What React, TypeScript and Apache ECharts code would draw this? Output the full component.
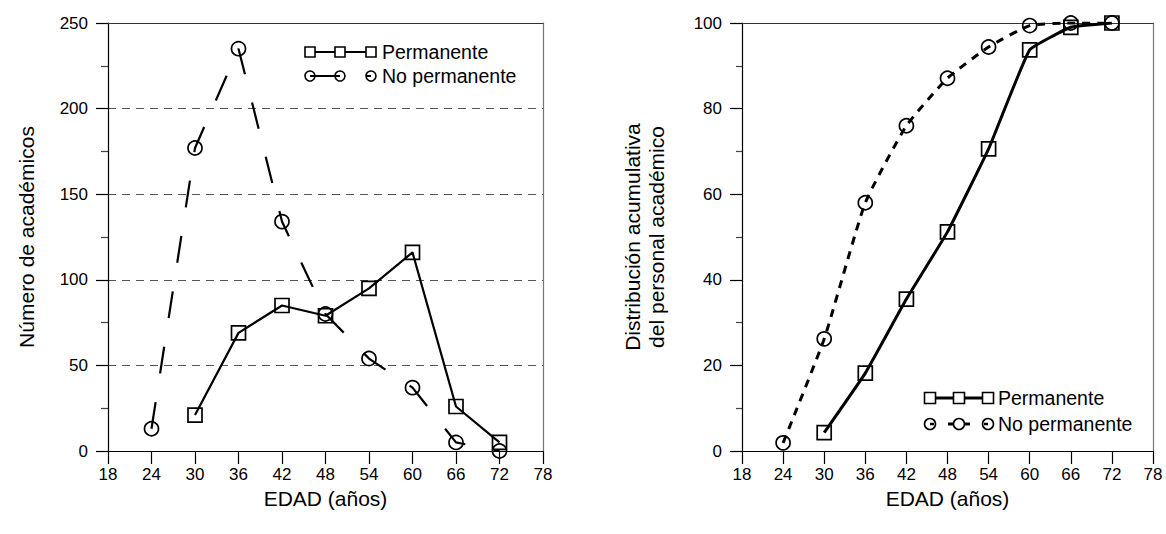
import React, { useEffect, useRef } from "react";
import * as echarts from "echarts";

// ---- Data ----
const permAges = [30, 36, 42, 48, 54, 60, 66, 72];
const permCount = [21, 69, 85, 79, 95, 116, 26, 5];
const noPermAges = [24, 30, 36, 42, 48, 54, 60, 66, 72];
const noPermCount = [13, 177, 235, 134, 80, 54, 37, 5, 0];
const permCum = [4.3, 18.2, 35.5, 51.2, 70.6, 93.7, 99, 100];
const noPermCum = [1.9, 26.2, 58, 76, 87.1, 94.4, 99.4, 100, 100];

const seriesNames = ["Permanente", "No permanente"];
const xName = "EDAD (años)";
const yNameLeft = "Número de académicos";
const yNameRight = "Distribución acumulativa\ndel personal académico";

const FONT = '"Liberation Sans", Arial, sans-serif';
const LEGEND_FONT = `19.5px ${FONT}`;

const zip = (xs: number[], ys: number[]) => xs.map((x, i) => [x, ys[i]]);

function bottomX(gridIndex: number) {
  return {
    type: "value",
    gridIndex,
    min: 18,
    max: 78,
    interval: 6,
    name: xName,
    nameLocation: "middle",
    nameGap: 34,
    nameTextStyle: { fontFamily: FONT, fontSize: 21, color: "#000" },
    axisLine: { show: true, lineStyle: { color: "#000", width: 1.2 } },
    axisTick: { show: true, inside: false, length: 13, lineStyle: { color: "#000", width: 1.2 } },
    axisLabel: { fontFamily: FONT, fontSize: 17, color: "#000", margin: 15 },
    splitLine: { show: false },
  };
}

function frameX(gridIndex: number) {
  return {
    type: "value",
    gridIndex,
    position: "top",
    min: 0,
    max: 1,
    axisLine: { show: true, onZero: false, lineStyle: { color: "#333", width: 1.2 } },
    axisTick: { show: false },
    axisLabel: { show: false },
    splitLine: { show: false },
  };
}

function frameY(gridIndex: number) {
  return {
    type: "value",
    gridIndex,
    position: "right",
    min: 0,
    max: 1,
    axisLine: { show: true, onZero: false, lineStyle: { color: "#777", width: 1.2 } },
    axisTick: { show: false },
    axisLabel: { show: false },
    splitLine: { show: false },
  };
}

export default function App() {
  const ref = useRef<HTMLDivElement>(null);

  useEffect(() => {
    if (!ref.current) return;
    const chart = echarts.init(ref.current, undefined, { renderer: "svg" });

    const markerItem = { color: "rgba(0,0,0,0)", borderColor: "#000", borderWidth: 1.7 };

    const legendLeft: any[] = [
      { type: "line", shape: { x1: 310, y1: 52, x2: 371, y2: 52 }, style: { stroke: "#000", lineWidth: 2 } },
      ...[310, 340, 371].map((cx) => ({
        type: "rect",
        shape: { x: cx - 5, y: 47, width: 10, height: 10 },
        style: { fill: "#fff", stroke: "#000", lineWidth: 1.6 },
      })),
      { type: "text", style: { text: seriesNames[0], x: 382, y: 52, font: LEGEND_FONT, fill: "#000", verticalAlign: "middle" } },
      { type: "line", shape: { x1: 310, y1: 76, x2: 340, y2: 76 }, style: { stroke: "#000", lineWidth: 2 } },
      { type: "line", shape: { x1: 366, y1: 76, x2: 371, y2: 76 }, style: { stroke: "#000", lineWidth: 2 } },
      ...[310, 340, 371].map((cx) => ({
        type: "circle",
        shape: { cx, cy: 76, r: 5 },
        style: { fill: "none", stroke: "#000", lineWidth: 1.6 },
      })),
      { type: "text", style: { text: seriesNames[1], x: 382, y: 76, font: LEGEND_FONT, fill: "#000", verticalAlign: "middle" } },
    ];

    const legendRight: any[] = [
      { type: "line", shape: { x1: 930, y1: 398, x2: 988, y2: 398 }, style: { stroke: "#000", lineWidth: 3 } },
      ...[930, 959, 988].map((cx) => ({
        type: "rect",
        shape: { x: cx - 5.5, y: 392.5, width: 11, height: 11 },
        style: { fill: "#fff", stroke: "#000", lineWidth: 1.6 },
      })),
      { type: "text", style: { text: seriesNames[0], x: 998, y: 398, font: LEGEND_FONT, fill: "#000", verticalAlign: "middle" } },
      { type: "line", shape: { x1: 948, y1: 424, x2: 970, y2: 424 }, style: { stroke: "#000", lineWidth: 3 } },
      { type: "line", shape: { x1: 930, y1: 424, x2: 934, y2: 424 }, style: { stroke: "#000", lineWidth: 2.5 } },
      { type: "line", shape: { x1: 984, y1: 424, x2: 988, y2: 424 }, style: { stroke: "#000", lineWidth: 2.5 } },
      ...[930, 959, 988].map((cx) => ({
        type: "circle",
        shape: { cx, cy: 424, r: 5.5 },
        style: { fill: cx === 959 ? "#fff" : "none", stroke: "#000", lineWidth: 1.6 },
      })),
      { type: "text", style: { text: seriesNames[1], x: 998, y: 424, font: LEGEND_FONT, fill: "#000", verticalAlign: "middle" } },
    ];

    chart.setOption({
      animation: false,
      backgroundColor: "#fff",
      textStyle: { fontFamily: FONT },
      grid: [
        { left: 108, right: 623, top: 23, bottom: 83 },
        { left: 742, right: 13, top: 23, bottom: 83 },
      ],
      xAxis: [bottomX(0), bottomX(1), frameX(0), frameX(1)],
      yAxis: [
        {
          type: "value",
          gridIndex: 0,
          min: 0,
          max: 250,
          interval: 50,
          name: yNameLeft,
          nameLocation: "middle",
          nameGap: 71,
          nameRotate: 90,
          nameTextStyle: { fontFamily: FONT, fontSize: 21, color: "#000" },
          axisLine: { show: true, lineStyle: { color: "#000", width: 1.2 } },
          axisTick: { show: true, inside: false, length: 12, lineStyle: { color: "#000", width: 1.2 } },
          minorTick: { show: true, splitNumber: 2, length: 7, lineStyle: { color: "#444", width: 1.2 } },
          axisLabel: { fontFamily: FONT, fontSize: 17, color: "#000", margin: 20 },
          splitLine: { show: true, lineStyle: { color: "#555", width: 1.2, type: [8, 6] } },
        },
        {
          type: "value",
          gridIndex: 1,
          min: 0,
          max: 100,
          interval: 20,
          name: yNameRight,
          nameLocation: "middle",
          nameGap: 74,
          nameRotate: 90,
          nameTextStyle: { fontFamily: FONT, fontSize: 21, color: "#000", lineHeight: 24 },
          axisLine: { show: true, lineStyle: { color: "#000", width: 1.2 } },
          axisTick: { show: true, inside: false, length: 12, lineStyle: { color: "#000", width: 1.2 } },
          minorTick: { show: true, splitNumber: 2, length: 6, lineStyle: { color: "#444", width: 1.2 } },
          axisLabel: { fontFamily: FONT, fontSize: 17, color: "#000", margin: 20 },
          splitLine: { show: false },
        },
        frameY(0),
        frameY(1),
      ],
      series: [
        {
          name: seriesNames[0],
          type: "line",
          xAxisIndex: 0,
          yAxisIndex: 0,
          data: zip(permAges, permCount),
          symbol: "rect",
          symbolSize: 14,
          lineStyle: { color: "#000", width: 2.2, type: "solid" },
          itemStyle: markerItem,
          z: 3,
        },
        {
          name: seriesNames[1],
          type: "line",
          xAxisIndex: 0,
          yAxisIndex: 0,
          data: zip(noPermAges, noPermCount),
          symbol: "circle",
          symbolSize: 14,
          lineStyle: { color: "#000", width: 2.2, type: [27, 29] },
          itemStyle: markerItem,
          z: 3,
        },
        {
          name: seriesNames[0],
          type: "line",
          xAxisIndex: 1,
          yAxisIndex: 1,
          data: zip(permAges, permCum),
          smooth: 0.1,
          symbol: "rect",
          symbolSize: 14,
          lineStyle: { color: "#000", width: 3, type: "solid" },
          itemStyle: markerItem,
          z: 3,
        },
        {
          name: seriesNames[1],
          type: "line",
          xAxisIndex: 1,
          yAxisIndex: 1,
          data: zip(noPermAges, noPermCum),
          smooth: 0.15,
          symbol: "circle",
          symbolSize: 14,
          lineStyle: { color: "#000", width: 3, type: [8, 7] },
          itemStyle: markerItem,
          z: 3,
        },
      ],
      graphic: [...legendLeft, ...legendRight],
    });

    return () => chart.dispose();
  }, []);

  return (
    <div
      ref={ref}
      style={{ position: "fixed", left: 0, top: 0, width: 1166, height: 534, background: "#fff" }}
    />
  );
}
